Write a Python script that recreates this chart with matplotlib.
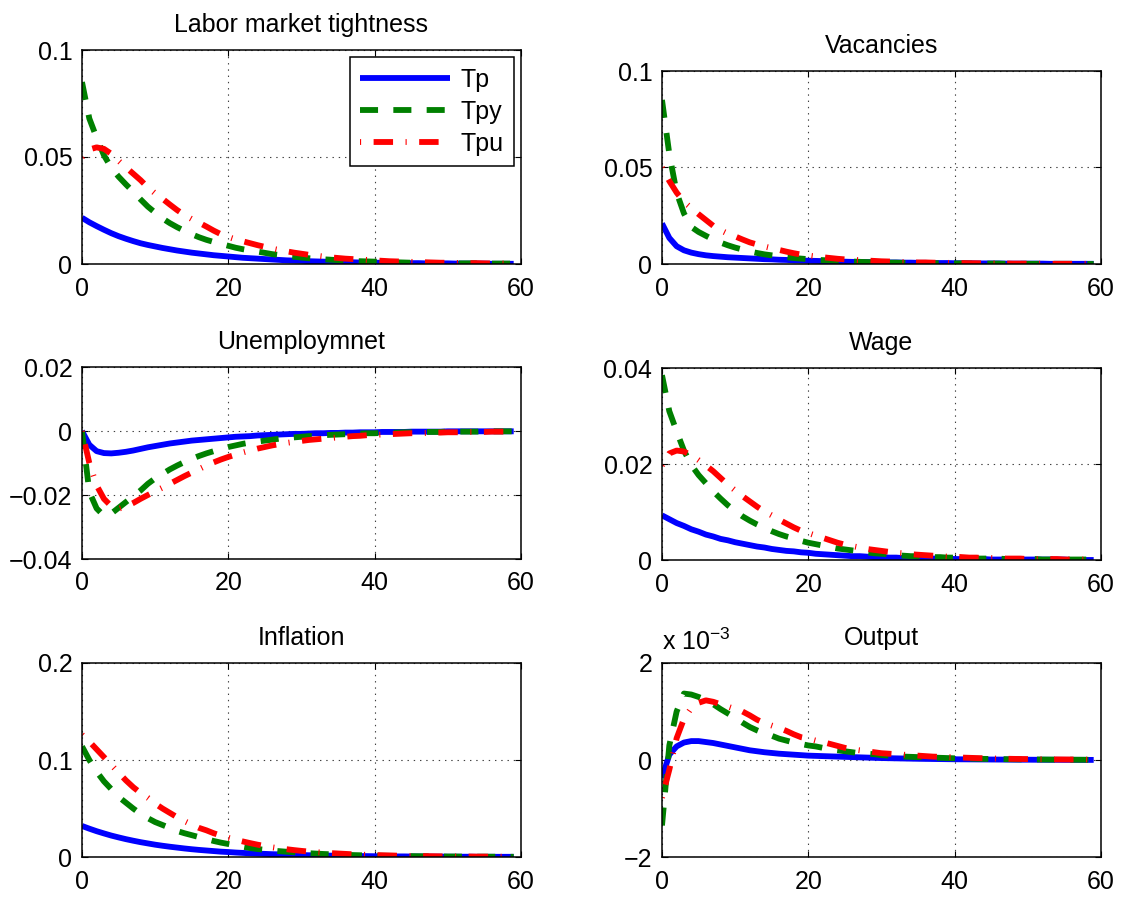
import matplotlib
matplotlib.use("Agg")
import matplotlib.pyplot as plt

plt.rcParams['font.family'] = ['Liberation Sans', 'DejaVu Sans']
plt.rcParams['mathtext.fontset'] = 'custom'
plt.rcParams['mathtext.rm'] = 'Liberation Sans'
plt.rcParams['lines.scale_dashes'] = False

period = list(range(60))
series_names = ['Tp', 'Tpy', 'Tpu']

# Labor market tightness
tight_tp = [0.0216, 0.0195, 0.0177, 0.0160, 0.0144, 0.0130, 0.0118, 0.0107, 0.0097, 0.0089,
            0.0082, 0.0075, 0.0069, 0.0063, 0.0058, 0.0053, 0.0049, 0.0045, 0.0041, 0.0038,
            0.0035, 0.0032, 0.0029, 0.0027, 0.0025, 0.0023, 0.0021, 0.0019, 0.0017, 0.0016,
            0.0015, 0.0013, 0.0012, 0.0011, 0.0010, 0.0009, 0.0009, 0.0008, 0.0007, 0.0007,
            0.0006, 0.0006, 0.0005, 0.0005, 0.0004, 0.0004, 0.0004, 0.0003, 0.0003, 0.0003,
            0.0003, 0.0002, 0.0002, 0.0002, 0.0002, 0.0002, 0.0001, 0.0001, 0.0001, 0.0001]
tight_tpy = [0.0850, 0.0680, 0.0590, 0.0508, 0.0450, 0.0408, 0.0372, 0.0338, 0.0302, 0.0268,
             0.0240, 0.0213, 0.0191, 0.0172, 0.0155, 0.0139, 0.0125, 0.0113, 0.0103, 0.0094,
             0.0085, 0.0076, 0.0069, 0.0063, 0.0058, 0.0052, 0.0046, 0.0042, 0.0037, 0.0034,
             0.0030, 0.0027, 0.0024, 0.0022, 0.0020, 0.0018, 0.0016, 0.0014, 0.0013, 0.0012,
             0.0011, 0.0010, 0.0009, 0.0008, 0.0007, 0.0006, 0.0006, 0.0005, 0.0005, 0.0004,
             0.0004, 0.0003, 0.0003, 0.0003, 0.0003, 0.0002, 0.0002, 0.0002, 0.0002, 0.0002]
tight_tpu = [0.0500, 0.0535, 0.0545, 0.0538, 0.0515, 0.0482, 0.0452, 0.0422, 0.0392, 0.0358,
             0.0330, 0.0305, 0.0278, 0.0252, 0.0229, 0.0210, 0.0193, 0.0175, 0.0156, 0.0139,
             0.0126, 0.0115, 0.0106, 0.0097, 0.0088, 0.0080, 0.0072, 0.0065, 0.0059, 0.0053,
             0.0048, 0.0043, 0.0039, 0.0035, 0.0031, 0.0028, 0.0025, 0.0023, 0.0021, 0.0019,
             0.0017, 0.0015, 0.0013, 0.0012, 0.0011, 0.0010, 0.0009, 0.0008, 0.0007, 0.0006,
             0.0006, 0.0005, 0.0005, 0.0004, 0.0004, 0.0003, 0.0003, 0.0003, 0.0002, 0.0002]

# Vacancies
vac_tp = [0.0210, 0.0135, 0.0092, 0.0071, 0.0059, 0.0051, 0.0045, 0.0041, 0.0038, 0.0035,
          0.0033, 0.0031, 0.0029, 0.0027, 0.0025, 0.0024, 0.0022, 0.0021, 0.0019, 0.0018,
          0.0017, 0.0016, 0.0015, 0.0014, 0.0013, 0.0012, 0.0011, 0.0011, 0.0010, 0.0009,
          0.0009, 0.0008, 0.0008, 0.0007, 0.0007, 0.0006, 0.0006, 0.0005, 0.0005, 0.0005,
          0.0004, 0.0004, 0.0004, 0.0003, 0.0003, 0.0003, 0.0003, 0.0002, 0.0002, 0.0002,
          0.0002, 0.0002, 0.0002, 0.0001, 0.0001, 0.0001, 0.0001, 0.0001, 0.0001, 0.0001]
vac_tpy = [0.0850, 0.0570, 0.0370, 0.0262, 0.0192, 0.0166, 0.0146, 0.0127, 0.0111, 0.0097,
           0.0085, 0.0075, 0.0065, 0.0057, 0.0050, 0.0045, 0.0040, 0.0035, 0.0031, 0.0028,
           0.0025, 0.0022, 0.0020, 0.0018, 0.0016, 0.0014, 0.0013, 0.0011, 0.0010, 0.0009,
           0.0008, 0.0007, 0.0007, 0.0006, 0.0005, 0.0005, 0.0004, 0.0004, 0.0004, 0.0003,
           0.0003, 0.0003, 0.0002, 0.0002, 0.0002, 0.0002, 0.0002, 0.0001, 0.0001, 0.0001,
           0.0001, 0.0001, 0.0001, 0.0001, 0.0001, 0.0001, 0.0001, 0.0001, 0.0000, 0.0000]
vac_tpu = [0.0500, 0.0430, 0.0370, 0.0322, 0.0290, 0.0258, 0.0228, 0.0198, 0.0175, 0.0157,
           0.0143, 0.0127, 0.0112, 0.0101, 0.0091, 0.0082, 0.0073, 0.0064, 0.0056, 0.0049,
           0.0044, 0.0039, 0.0035, 0.0031, 0.0027, 0.0024, 0.0022, 0.0020, 0.0018, 0.0016,
           0.0014, 0.0013, 0.0012, 0.0010, 0.0009, 0.0008, 0.0008, 0.0007, 0.0006, 0.0006,
           0.0005, 0.0005, 0.0004, 0.0004, 0.0003, 0.0003, 0.0003, 0.0003, 0.0002, 0.0002,
           0.0002, 0.0002, 0.0002, 0.0001, 0.0001, 0.0001, 0.0001, 0.0001, 0.0001, 0.0001]

# Unemployment
unemp_tp = [0.0000, -0.0043, -0.0063, -0.0069, -0.0070, -0.0068, -0.0065, -0.0061, -0.0056, -0.0051,
            -0.0047, -0.0043, -0.0039, -0.0036, -0.0033, -0.0030, -0.0028, -0.0026, -0.0024, -0.0022,
            -0.0020, -0.0018, -0.0017, -0.0016, -0.0014, -0.0013, -0.0012, -0.0011, -0.0010, -0.0009,
            -0.0009, -0.0008, -0.0007, -0.0007, -0.0006, -0.0006, -0.0005, -0.0005, -0.0004, -0.0004,
            -0.0004, -0.0003, -0.0003, -0.0003, -0.0003, -0.0002, -0.0002, -0.0002, -0.0002, -0.0002,
            -0.0001, -0.0001, -0.0001, -0.0001, -0.0001, -0.0001, -0.0001, -0.0001, -0.0001, -0.0001]
unemp_tpy = [0.0000, -0.0190, -0.0242, -0.0265, -0.0258, -0.0240, -0.0222, -0.0204, -0.0186, -0.0165,
             -0.0148, -0.0134, -0.0120, -0.0108, -0.0097, -0.0087, -0.0078, -0.0070, -0.0063, -0.0056,
             -0.0050, -0.0045, -0.0040, -0.0036, -0.0033, -0.0030, -0.0027, -0.0024, -0.0022, -0.0020,
             -0.0018, -0.0016, -0.0015, -0.0013, -0.0012, -0.0011, -0.0010, -0.0009, -0.0008, -0.0007,
             -0.0007, -0.0006, -0.0005, -0.0005, -0.0004, -0.0004, -0.0004, -0.0003, -0.0003, -0.0003,
             -0.0002, -0.0002, -0.0002, -0.0002, -0.0002, -0.0001, -0.0001, -0.0001, -0.0001, -0.0001]
unemp_tpu = [0.0000, -0.0100, -0.0170, -0.0212, -0.0235, -0.0243, -0.0236, -0.0225, -0.0212, -0.0200,
             -0.0188, -0.0177, -0.0165, -0.0153, -0.0141, -0.0130, -0.0119, -0.0108, -0.0098, -0.0089,
             -0.0081, -0.0074, -0.0067, -0.0061, -0.0055, -0.0050, -0.0045, -0.0041, -0.0037, -0.0034,
             -0.0031, -0.0028, -0.0026, -0.0024, -0.0022, -0.0020, -0.0018, -0.0016, -0.0015, -0.0013,
             -0.0012, -0.0011, -0.0010, -0.0009, -0.0008, -0.0007, -0.0007, -0.0006, -0.0005, -0.0005,
             -0.0004, -0.0004, -0.0004, -0.0003, -0.0003, -0.0003, -0.0002, -0.0002, -0.0002, -0.0002]

# Wage
wage_tp = [0.0093, 0.0085, 0.0077, 0.0071, 0.0064, 0.0059, 0.0053, 0.0049, 0.0044, 0.0041,
           0.0037, 0.0034, 0.0031, 0.0028, 0.0026, 0.0023, 0.0021, 0.0019, 0.0018, 0.0016,
           0.0015, 0.0013, 0.0012, 0.0011, 0.0010, 0.0009, 0.0008, 0.0008, 0.0007, 0.0006,
           0.0006, 0.0005, 0.0005, 0.0004, 0.0004, 0.0004, 0.0003, 0.0003, 0.0003, 0.0003,
           0.0002, 0.0002, 0.0002, 0.0002, 0.0002, 0.0001, 0.0001, 0.0001, 0.0001, 0.0001,
           0.0001, 0.0001, 0.0001, 0.0001, 0.0001, 0.0001, 0.0000, 0.0000, 0.0000, 0.0000]
wage_tpy = [0.0385, 0.0310, 0.0268, 0.0228, 0.0198, 0.0177, 0.0160, 0.0143, 0.0128, 0.0114,
            0.0102, 0.0091, 0.0082, 0.0074, 0.0067, 0.0060, 0.0054, 0.0049, 0.0045, 0.0040,
            0.0036, 0.0033, 0.0030, 0.0027, 0.0024, 0.0022, 0.0020, 0.0018, 0.0016, 0.0014,
            0.0013, 0.0012, 0.0010, 0.0009, 0.0008, 0.0008, 0.0007, 0.0006, 0.0006, 0.0005,
            0.0005, 0.0004, 0.0004, 0.0003, 0.0003, 0.0003, 0.0003, 0.0002, 0.0002, 0.0002,
            0.0002, 0.0002, 0.0001, 0.0001, 0.0001, 0.0001, 0.0001, 0.0001, 0.0001, 0.0001]
wage_tpu = [0.0197, 0.0222, 0.0228, 0.0226, 0.0218, 0.0208, 0.0197, 0.0185, 0.0171, 0.0157,
            0.0145, 0.0133, 0.0122, 0.0111, 0.0101, 0.0093, 0.0084, 0.0076, 0.0068, 0.0061,
            0.0056, 0.0051, 0.0046, 0.0041, 0.0036, 0.0032, 0.0029, 0.0026, 0.0023, 0.0021,
            0.0019, 0.0017, 0.0015, 0.0014, 0.0012, 0.0011, 0.0010, 0.0009, 0.0008, 0.0007,
            0.0007, 0.0006, 0.0005, 0.0005, 0.0004, 0.0004, 0.0004, 0.0003, 0.0003, 0.0003,
            0.0002, 0.0002, 0.0002, 0.0002, 0.0002, 0.0001, 0.0001, 0.0001, 0.0001, 0.0001]

# Inflation
infl_tp = [0.0320, 0.0292, 0.0266, 0.0243, 0.0221, 0.0202, 0.0184, 0.0168, 0.0153, 0.0140,
           0.0127, 0.0116, 0.0106, 0.0097, 0.0088, 0.0080, 0.0073, 0.0067, 0.0061, 0.0055,
           0.0051, 0.0046, 0.0042, 0.0038, 0.0035, 0.0032, 0.0029, 0.0027, 0.0024, 0.0022,
           0.0020, 0.0018, 0.0017, 0.0015, 0.0014, 0.0013, 0.0012, 0.0011, 0.0010, 0.0009,
           0.0008, 0.0007, 0.0007, 0.0006, 0.0006, 0.0005, 0.0005, 0.0004, 0.0004, 0.0004,
           0.0003, 0.0003, 0.0003, 0.0003, 0.0002, 0.0002, 0.0002, 0.0002, 0.0002, 0.0002]
infl_tpy = [0.1140, 0.1000, 0.0880, 0.0780, 0.0700, 0.0620, 0.0560, 0.0500, 0.0445, 0.0400,
            0.0360, 0.0330, 0.0300, 0.0268, 0.0245, 0.0225, 0.0205, 0.0185, 0.0165, 0.0148,
            0.0134, 0.0120, 0.0106, 0.0092, 0.0082, 0.0074, 0.0066, 0.0060, 0.0054, 0.0048,
            0.0043, 0.0039, 0.0035, 0.0031, 0.0028, 0.0025, 0.0022, 0.0020, 0.0018, 0.0016,
            0.0014, 0.0013, 0.0012, 0.0011, 0.0010, 0.0009, 0.0008, 0.0007, 0.0006, 0.0006,
            0.0005, 0.0005, 0.0004, 0.0004, 0.0003, 0.0003, 0.0003, 0.0003, 0.0002, 0.0002]
infl_tpu = [0.1260, 0.1190, 0.1110, 0.1030, 0.0950, 0.0870, 0.0790, 0.0720, 0.0660, 0.0610,
            0.0550, 0.0500, 0.0455, 0.0410, 0.0370, 0.0335, 0.0300, 0.0275, 0.0245, 0.0220,
            0.0198, 0.0178, 0.0160, 0.0143, 0.0127, 0.0113, 0.0100, 0.0089, 0.0080, 0.0071,
            0.0063, 0.0056, 0.0050, 0.0045, 0.0040, 0.0036, 0.0032, 0.0028, 0.0025, 0.0022,
            0.0020, 0.0018, 0.0016, 0.0014, 0.0013, 0.0011, 0.0010, 0.0009, 0.0008, 0.0007,
            0.0006, 0.0006, 0.0005, 0.0005, 0.0004, 0.0004, 0.0003, 0.0003, 0.0003, 0.0002]

# Output, in units of 1e-3 (axis carries the "x 10^-3" multiplier)
out_tp = [-0.37, 0.11, 0.28, 0.36, 0.39, 0.39, 0.37, 0.35, 0.32, 0.29,
          0.26, 0.23, 0.20, 0.18, 0.16, 0.145, 0.13, 0.12, 0.11, 0.10,
          0.09, 0.085, 0.08, 0.075, 0.07, 0.065, 0.06, 0.055, 0.05, 0.045,
          0.04, 0.037, 0.034, 0.031, 0.028, 0.025, 0.023, 0.021, 0.019, 0.017,
          0.015, 0.014, 0.013, 0.012, 0.011, 0.010, 0.009, 0.008, 0.007, 0.006,
          0.006, 0.005, 0.005, 0.004, 0.004, 0.003, 0.003, 0.003, 0.002, 0.002]
out_tpy = [-1.35, 0.30, 1.00, 1.37, 1.35, 1.30, 1.24, 1.15, 1.05, 0.96,
           0.87, 0.77, 0.68, 0.61, 0.55, 0.50, 0.44, 0.40, 0.36, 0.33,
           0.30, 0.28, 0.25, 0.22, 0.20, 0.18, 0.16, 0.14, 0.13, 0.12,
           0.10, 0.09, 0.08, 0.07, 0.065, 0.06, 0.055, 0.05, 0.045, 0.04,
           0.035, 0.032, 0.029, 0.026, 0.023, 0.021, 0.019, 0.017, 0.015, 0.013,
           0.012, 0.011, 0.010, 0.009, 0.008, 0.007, 0.006, 0.005, 0.005, 0.004]
out_tpu = [-0.78, -0.20, 0.45, 0.85, 1.07, 1.18, 1.23, 1.20, 1.15, 1.10,
           1.05, 1.00, 0.92, 0.83, 0.76, 0.71, 0.66, 0.60, 0.53, 0.47,
           0.44, 0.40, 0.37, 0.33, 0.29, 0.25, 0.22, 0.20, 0.18, 0.16,
           0.14, 0.13, 0.12, 0.11, 0.10, 0.09, 0.08, 0.07, 0.065, 0.06,
           0.055, 0.05, 0.045, 0.04, 0.036, 0.032, 0.029, 0.026, 0.023, 0.021,
           0.019, 0.017, 0.015, 0.013, 0.012, 0.011, 0.010, 0.009, 0.008, 0.007]

titles = ['Labor market tightness', 'Vacancies', 'Unemploymnet', 'Wage', 'Inflation', 'Output']
panel_data = [(tight_tp, tight_tpy, tight_tpu), (vac_tp, vac_tpy, vac_tpu),
              (unemp_tp, unemp_tpy, unemp_tpu), (wage_tp, wage_tpy, wage_tpu),
              (infl_tp, infl_tpy, infl_tpu), (out_tp, out_tpy, out_tpu)]
y_ticks = [[0, 0.05, 0.1], [0, 0.05, 0.1], [-0.04, -0.02, 0, 0.02],
           [0, 0.02, 0.04], [0, 0.1, 0.2], [-2, 0, 2]]
y_ticklabels = [['0', '0.05', '0.1'], ['0', '0.05', '0.1'], ['\u22120.04', '\u22120.02', '0', '0.02'],
                ['0', '0.02', '0.04'], ['0', '0.1', '0.2'], ['\u22122', '0', '2']]
x_ticks = [0, 20, 40, 60]

# axes rectangles in figure fractions [left, bottom, width, height]
W, H = 1126.0, 897.0
rects = [[82 / W, 1 - 264 / H, 439 / W, 214 / H],
         [662 / W, 1 - 264 / H, 439 / W, 193 / H],
         [82 / W, 1 - 559 / H, 439 / W, 192 / H],
         [662 / W, 1 - 560 / H, 439 / W, 192 / H],
         [82 / W, 1 - 857 / H, 439 / W, 194 / H],
         [662 / W, 1 - 857 / H, 439 / W, 194 / H]]

styles = [dict(color=(0, 0, 1), linestyle='-', lw=4.2, solid_capstyle='butt'),
          dict(color=(0, 0.5, 0), linestyle=(0, (13, 11)), lw=4.2),
          dict(color=(1, 0, 0), linestyle=(0, (0.8, 9, 14, 9)), lw=4.2)]

fs = 18
fig = plt.figure(figsize=(11.26, 8.97), dpi=100)

for i in range(6):
    ax = fig.add_axes(rects[i])
    for vals, name, st in zip(panel_data[i], series_names, styles):
        ax.plot(period, vals, label=name, **st)
    ax.set_xlim(0, 60)
    ax.set_ylim(y_ticks[i][0], y_ticks[i][-1])
    ax.set_xticks(x_ticks)
    ax.set_xticklabels([str(v) for v in x_ticks])
    ax.set_yticks(y_ticks[i])
    ax.set_yticklabels(y_ticklabels[i])
    ax.tick_params(direction='in', top=True, right=True, length=4, width=0.8,
                   labelsize=fs)
    ax.tick_params(axis='x', pad=9)
    ax.tick_params(axis='y', pad=7)
    ax.grid(True, linestyle=(0, (1, 3.5)), color='0.25', lw=0.8)
    for sp in ax.spines.values():
        sp.set_linewidth(1.1)
    ax.set_title(titles[i], fontsize=fs, pad=13)
    if i == 0:
        leg = ax.legend(loc='upper right', fontsize=fs, fancybox=False, framealpha=1,
                        edgecolor='black', handlelength=3.6, handletextpad=0.4,
                        labelspacing=0.33, borderpad=0.4, borderaxespad=0.3)
        leg.get_frame().set_linewidth(1.1)
    if i == 5:
        ax.text(0.0, 1.04, 'x 10$^{\\mathregular{\u22123}}$', transform=ax.transAxes,
                fontsize=fs, ha='left', va='bottom')

fig.savefig('out.png', dpi=100)
